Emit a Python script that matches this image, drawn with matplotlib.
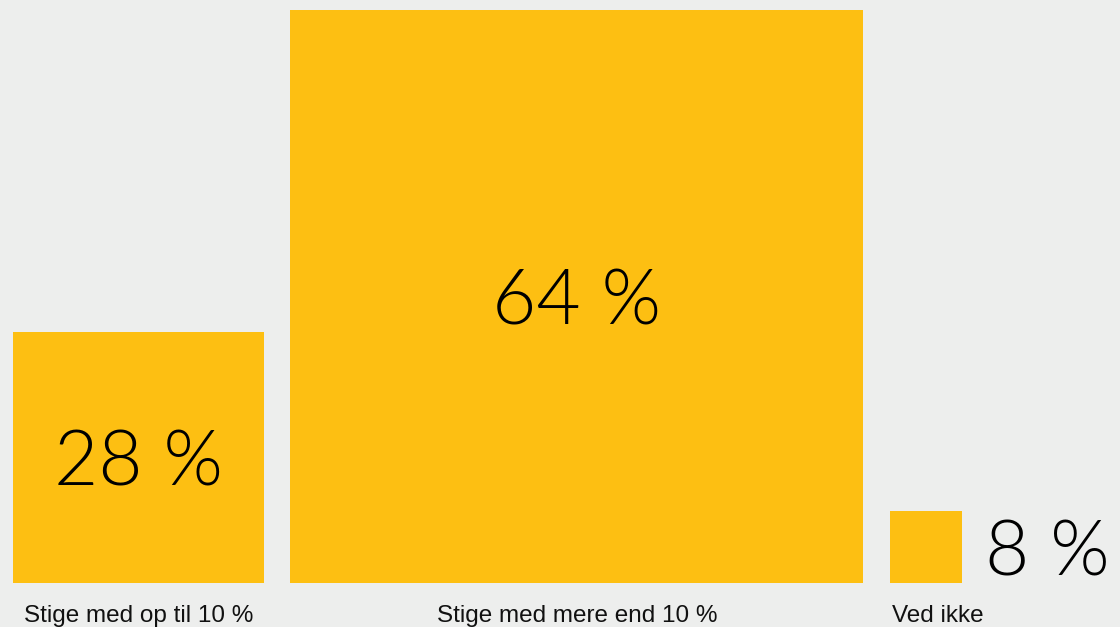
import matplotlib
matplotlib.use("Agg")
import matplotlib.pyplot as plt

categories = ["Stige med op til 10 %", "Stige med mere end 10 %", "Ved ikke"]
values = [28, 64, 8]
value_labels = ["28 %", "64 %", "8 %"]

BG = "#EDEEED"
YELLOW = "#FDBF12"
W, H, DPI = 1120, 627, 100
scale = 8.95  # px per percent
gap = 3.0

fig = plt.figure(figsize=(W / DPI, H / DPI), dpi=DPI, facecolor=BG)
ax = fig.add_axes([0, 0, 1, 1])
ax.set_facecolor(BG)
x0 = -13 / scale
ax.set_xlim(x0, x0 + W / scale)
y0 = -(627 - 583) / scale
ax.set_ylim(y0, y0 + H / scale)
ax.axis("off")

lefts = []
pos = 0.0
for v in values:
    lefts.append(pos)
    pos += v + gap

ax.bar(lefts, values, width=values, align="edge", color=YELLOW, linewidth=0)

big = dict(family=["Lato", "DejaVu Sans"], fontweight=300, fontsize=55, color="black")
lab = dict(family=["Liberation Sans", "DejaVu Sans"], fontsize=17.5, color="#111111")

for i, (l, v, t, c) in enumerate(zip(lefts, values, value_labels, categories)):
    if i < 2:
        ax.text(l + v / 2, v / 2, t, ha="center", va="center_baseline", **big)
        ax.text(l + v / 2, -39 / scale, c, ha="center", va="baseline", **lab)
    else:
        ax.text(l + v + 2.6, v / 2, t, ha="left", va="center_baseline", **big)
        ax.text(l + 0.2, -39 / scale, c, ha="left", va="baseline", **lab)

fig.savefig("out.png", dpi=DPI, facecolor=BG)
